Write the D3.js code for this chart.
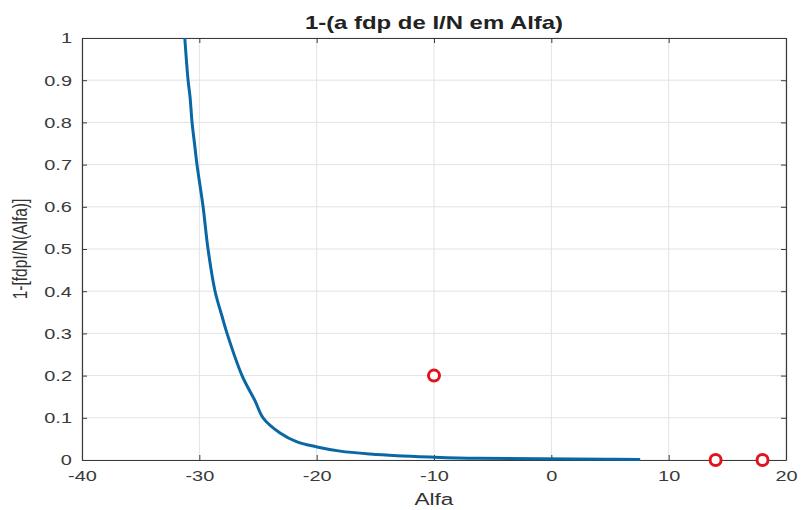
<!DOCTYPE html>
<html>
<head>
<meta charset="utf-8">
<script src="https://cdn.jsdelivr.net/npm/d3@7"></script>
<style>
  body { margin: 0; background: #fff; }
  text { font-family: "Liberation Sans", Arial, sans-serif; }
  /* the picture's text is a bit wide, stretch it sideways */
  .wide { transform-box: fill-box; transform-origin: 50% 50%; transform: scaleX(1.33); }
  .wide-right { transform-box: fill-box; transform-origin: 100% 50%; transform: scaleX(1.33); }
</style>
</head>
<body>
<div id="chart"></div>
<script>
// curve: alfa vs 1 - cdf
const alfa = [-31.24, -30.96, -30.79, -30.62, -30.37, -30.2, -29.68, -29.26, -28.66, -28.06, -27.64,
  -26.36, -25.25, -24.57, -23.12, -21.67, -19.97, -18.0, -15.45, -13.15, -10.33, -6.33, 4.76, 7.57];
const prob = [1, 0.9, 0.86, 0.8, 0.74, 0.7, 0.6, 0.5, 0.4, 0.34, 0.3,
  0.2, 0.14, 0.1, 0.064, 0.043, 0.031, 0.021, 0.014, 0.010, 0.007, 0.004, 0.002, 0.001];

// red circle markers
const mark_x = [-10, 14, 18];
const mark_y = [0.2, 0, 0];

const x_ticks = [-40, -30, -20, -10, 0, 10, 20];
const y_ticks = [0, 0.1, 0.2, 0.3, 0.4, 0.5, 0.6, 0.7, 0.8, 0.9, 1];

const width = 802, height = 510;
const margin = {top: 38, right: 16, bottom: 50, left: 82};

const svg = d3.select('#chart').append('svg')
  .attr('width', width).attr('height', height);

const x = d3.scaleLinear().domain([-40, 20]).range([margin.left, width - margin.right]);
const y = d3.scaleLinear().domain([0, 1]).range([height - margin.bottom, margin.top]);

const axis_color = '#3a3a3a';

// grid
svg.append('g')
  .selectAll('line.vgrid')
  .data(x_ticks)
  .join('line')
  .attr('x1', d => x(d)).attr('x2', d => x(d))
  .attr('y1', y(0)).attr('y2', y(1))
  .attr('stroke', '#e3e3e3').attr('stroke-width', 1);

svg.append('g')
  .selectAll('line.hgrid')
  .data(y_ticks)
  .join('line')
  .attr('y1', d => y(d)).attr('y2', d => y(d))
  .attr('x1', x(-40)).attr('x2', x(20))
  .attr('stroke', '#e3e3e3').attr('stroke-width', 1);

// axes, ticks inward like matlab
const styleAxis = (g, cls) => {
  g.select('.domain').attr('stroke', axis_color).attr('stroke-width', 1.2);
  g.selectAll('.tick line').attr('stroke', axis_color);
  g.selectAll('.tick text').attr('fill', '#3a3a3a').style('font-size', '15px').attr('class', cls);
};

// plain hyphen for negatives, as in the picture
const fmt = d => String(d);

svg.append('g')
  .attr('transform', `translate(0,${y(0)})`)
  .call(d3.axisBottom(x).tickValues(x_ticks).tickSize(-5).tickSizeOuter(0).tickPadding(10).tickFormat(fmt))
  .call(styleAxis, 'wide');

svg.append('g')
  .attr('transform', `translate(0,${y(1)})`)
  .call(d3.axisTop(x).tickValues(x_ticks).tickSize(-5).tickSizeOuter(0).tickFormat(''))
  .call(styleAxis);

svg.append('g')
  .attr('transform', `translate(${x(-40)},0)`)
  .call(d3.axisLeft(y).tickValues(y_ticks).tickSize(-5).tickSizeOuter(0).tickPadding(10).tickFormat(fmt))
  .call(styleAxis, 'wide-right');

svg.append('g')
  .attr('transform', `translate(${x(20)},0)`)
  .call(d3.axisRight(y).tickValues(y_ticks).tickSize(-5).tickSizeOuter(0).tickFormat(''))
  .call(styleAxis);

// curve
const curve = alfa.map((a, i) => [a, prob[i]]);
svg.append('path')
  .datum(curve)
  .attr('fill', 'none')
  .attr('stroke', '#0a67a6')
  .attr('stroke-width', 3)
  .attr('stroke-linejoin', 'round')
  .attr('d', d3.line().x(d => x(d[0])).y(d => y(d[1])).curve(d3.curveCatmullRom.alpha(0.5)));

// markers
svg.append('g')
  .selectAll('circle')
  .data(mark_x.map((d, i) => [d, mark_y[i]]))
  .join('circle')
  .attr('cx', d => x(d[0])).attr('cy', d => y(d[1]))
  .attr('r', 5.5)
  .attr('fill', '#fff')
  .attr('stroke', '#e0141e')
  .attr('stroke-width', 3);

// labels
svg.append('text')
  .attr('class', 'wide')
  .attr('x', (x(-40) + x(20)) / 2).attr('y', 29)
  .attr('text-anchor', 'middle')
  .style('font-size', '18px').style('font-weight', 'bold').attr('fill', '#222')
  .text('1-(a fdp de I/N em Alfa)');

svg.append('text')
  .attr('class', 'wide')
  .attr('x', (x(-40) + x(20)) / 2).attr('y', 505)
  .attr('text-anchor', 'middle')
  .style('font-size', '17px').attr('fill', '#333')
  .text('Alfa');

svg.append('g')
  .attr('transform', `translate(27,${(y(0) + y(1)) / 2}) scale(1.33,1) rotate(-90)`)
  .append('text')
  .attr('text-anchor', 'middle')
  .style('font-size', '15.5px').attr('fill', '#333')
  .text('1-[fdpI/N(Alfa)]');
</script>
</body>
</html>
